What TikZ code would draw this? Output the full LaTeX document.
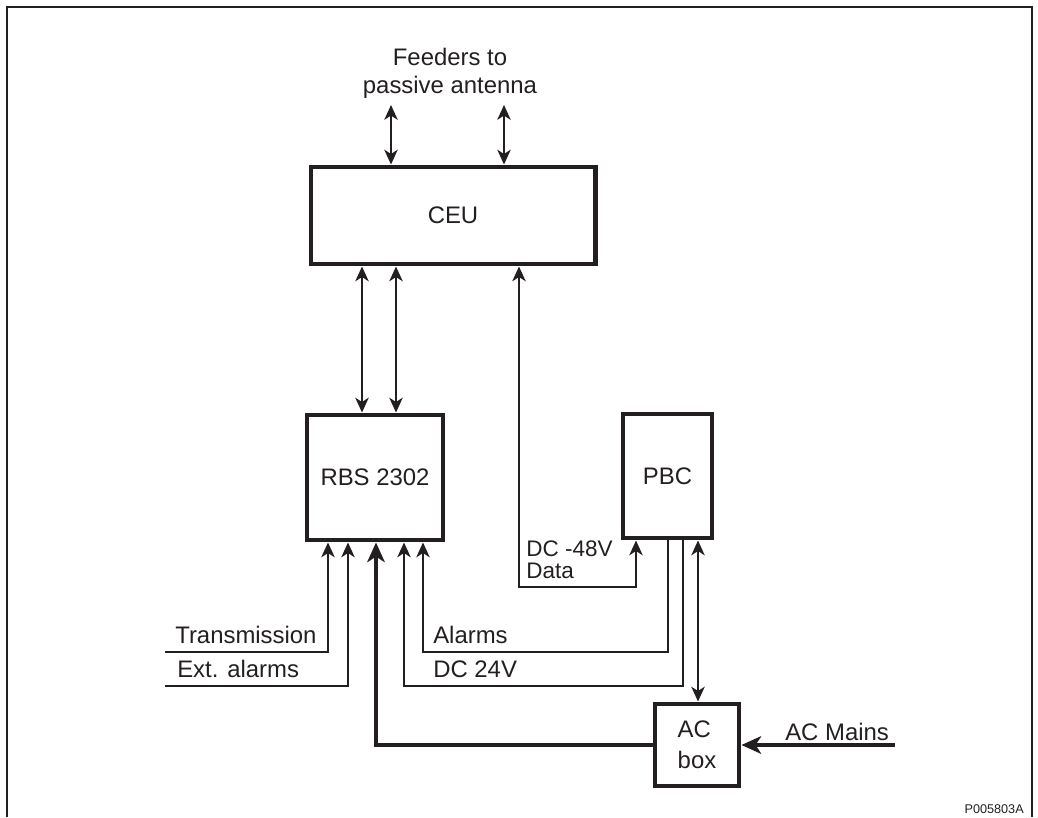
\documentclass[tikz,border=0pt]{standalone}
\usepackage{fontspec}
\setmainfont{Liberation Sans}
\usetikzlibrary{arrows.meta}
\definecolor{ink}{RGB}{35,31,32}

\begin{document}
\begin{tikzpicture}[x=0.025cm,y=-0.025cm,line cap=butt,line join=miter,
    font=\fontsize{17}{20}\selectfont,
    box/.style={draw=ink,line width=3.5pt,inner sep=0pt,text=ink},
    sig/.style={draw=ink,line width=1.5pt,-{Stealth[length=10.5pt,width=9.5pt,inset=3pt]}},
    bi/.style={sig,{Stealth[length=10.5pt,width=9.5pt,inset=3pt]}-{Stealth[length=10.5pt,width=9.5pt,inset=3pt]}},
    pwr/.style={draw=ink,line width=2.5pt,-{Stealth[length=14pt,width=12.5pt,inset=4pt]}},
    lbl/.style={inner sep=0pt,text=ink,anchor=base west}]
  \useasboundingbox (0,0) rectangle (1038,817);
  % 外框
  \draw[ink,line width=1pt] (7,817) -- (7,7) -- (1032,7) -- (1032,817);
  % 方框
  \node[box,minimum width=7.1cm,minimum height=2.425cm] (ceu) at (453,215.5) {CEU};
  \node[box,minimum width=3.4cm,minimum height=3.125cm] (rbs) at (375,477.5) {RBS 2302};
  \node[box,minimum width=2.225cm,minimum height=3.1cm] (pbc) at (667.5,476) {PBC};
  \node[box,minimum width=2.1cm,minimum height=2.05cm,align=left,
        font=\fontsize{17}{22}\selectfont] (acbox) at (697,745) {AC\\box};
  % 天线馈线
  \node[inner sep=0pt,text=ink,align=center] (feeders) at (450,73) {Feeders to\\passive antenna};
  \coordinate (fa) at (391,105);
  \coordinate (fb) at (504,105);
  \draw[bi] (fa) -- (fa |- ceu.north);
  \draw[bi] (fb) -- (fb |- ceu.north);
  % CEU 与 RBS 2302
  \draw[bi] (ceu.south -| 362,0) -- (rbs.north -| 362,0);
  \draw[bi] (ceu.south -| 396,0) -- (rbs.north -| 396,0);
  % DC -48V / Data
  \draw[bi] (ceu.south -| 519,0) -- (519,587) -| (pbc.south -| 636,0);
  \node[lbl,font=\fontsize{16}{18}\selectfont] (dc48) at (526,556) {DC -48V};
  \node[lbl,font=\fontsize{16}{18}\selectfont] (data) at (526,578) {Data};
  % 外部输入
  \coordinate (tx) at (165,652);
  \coordinate (ext) at (165,686);
  \draw[sig] (tx) -| (rbs.south -| 328,0);
  \draw[sig] (ext) -| (rbs.south -| 348,0);
  \node[lbl] (lbltx) at (175,643) {Transmission};
  \node[lbl] (lblext) at (177,677) {Ext. alarms};
  % PBC 至 RBS 2302
  \draw[sig] (pbc.south -| 668,0) -- (668,652) -| (rbs.south -| 423,0);
  \draw[sig] (pbc.south -| 683,0) -- (683,686) -| (rbs.south -| 404,0);
  \node[lbl] (lblalarm) at (433,643) {Alarms};
  \node[lbl] (lbldc) at (433,677) {DC 24V};
  % AC box
  \draw[bi] (pbc.south -| 698,0) -- (acbox.north -| 698,0);
  \draw[pwr] (acbox.west) -| (rbs.south -| 376,0);
  \coordinate (mains) at (895,745);
  \draw[pwr] (mains) -- (acbox.east);
  \node[lbl] (lblmains) at (785,740) {AC Mains};
  % 图号
  \node[inner sep=0pt,text=ink,anchor=east,font=\fontsize{9}{11}\selectfont] (pno) at (1024,809) {P005803A};
\end{tikzpicture}
\end{document}
